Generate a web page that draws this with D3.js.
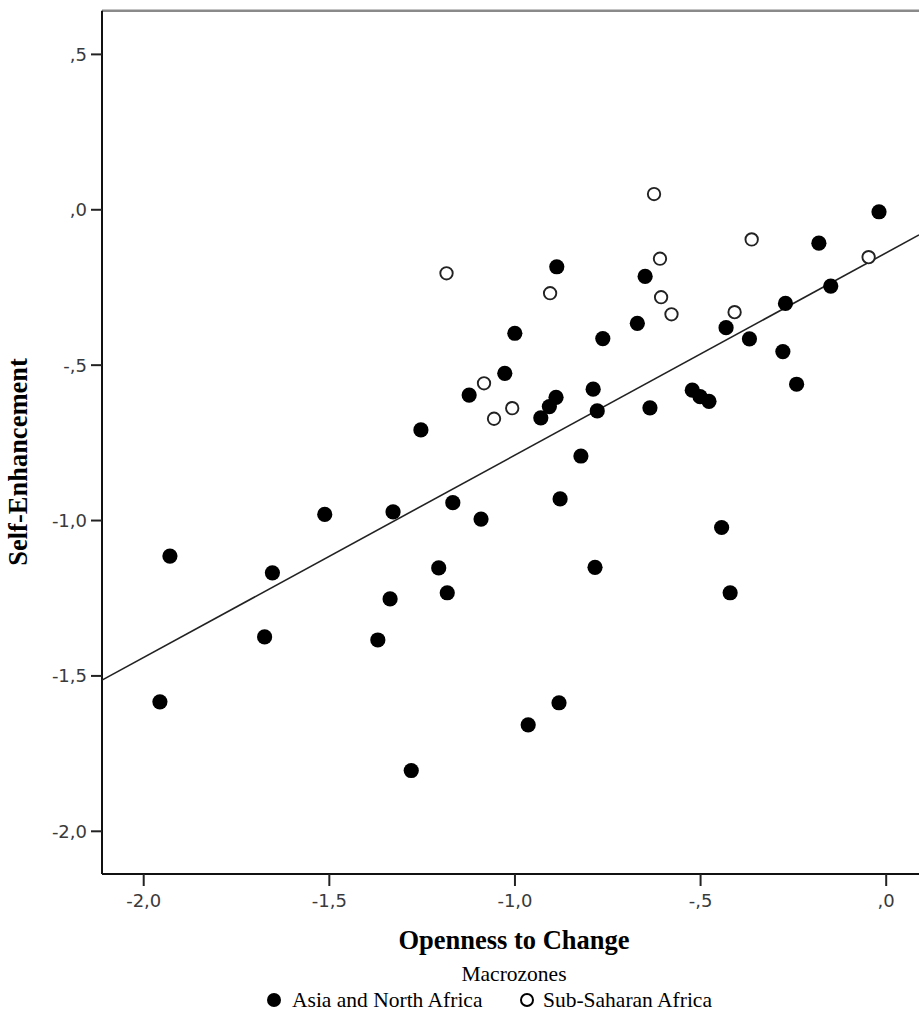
<!DOCTYPE html>
<html>
<head>
<meta charset="utf-8">
<script src="https://cdn.jsdelivr.net/npm/d3@7"></script>
<style>
  html, body { margin: 0; padding: 0; background: #fff; }
  svg { display: block; }
</style>
</head>
<body>
<svg id="chart" width="919" height="1014"></svg>
<script>
// ---- Data ----
const xTicks = [-2.0, -1.5, -1.0, -0.5, 0.0];
const yTicks = [0.5, 0.0, -0.5, -1.0, -1.5, -2.0];
const xTickLabels = ["-2,0", "-1,5", "-1,0", "-,5", ",0"];
const yTickLabels = [",5", ",0", "-,5", "-1,0", "-1,5", "-2,0"];

const asiaX = [-1.928, -1.955, -1.652, -1.673, -1.511, -1.327, -1.335, -1.368, -1.278, -1.252,
               -1.204, -1.181, -1.166, -1.090, -1.122, -1.026, -0.999, -0.886, -0.929, -0.906,
               -0.888, -0.788, -0.777, -0.762, -0.821, -0.877, -0.783, -0.880, -0.963, -0.669,
               -0.648, -0.635, -0.521, -0.500, -0.476, -0.430, -0.367, -0.442, -0.419, -0.277,
               -0.240, -0.270, -0.180, -0.148, -0.018];
const asiaY = [-1.116, -1.585, -1.170, -1.376, -0.982, -0.974, -1.254, -1.386, -1.806, -0.710,
               -1.154, -1.234, -0.944, -0.997, -0.598, -0.528, -0.399, -0.185, -0.671, -0.635,
               -0.605, -0.579, -0.649, -0.416, -0.794, -0.932, -1.152, -1.588, -1.659, -0.367,
               -0.216, -0.639, -0.582, -0.603, -0.618, -0.381, -0.417, -1.024, -1.234, -0.458,
               -0.563, -0.303, -0.109, -0.247, -0.008];

const ssaX = [-1.183, -1.082, -1.055, -1.006, -0.904, -0.624, -0.608, -0.605, -0.577, -0.407, -0.361, -0.046];
const ssaY = [-0.206, -0.560, -0.674, -0.640, -0.270, 0.049, -0.159, -0.283, -0.338, -0.331, -0.097, -0.154];

const fitIntercept = -0.141;
const fitSlope = 0.651;

const legendLabels = ["Asia and North Africa", "Sub-Saharan Africa"];

// ---- Layout ----
const svg = d3.select("#chart");
const pLeft = 102, pRight = 919, pTop = 10.7, pBottom = 874;
const xDomain = [-2.111, 0.0897];
const yDomain = [-2.139, 0.639];

const x = d3.scaleLinear().domain(xDomain).range([pLeft, pRight]);
const y = d3.scaleLinear().domain(yDomain).range([pBottom, pTop]);

const tickFont = "'DejaVu Sans', sans-serif";
const serif = "'Liberation Serif', 'Times New Roman', serif";

// top frame line (gray)
svg.append("line")
  .attr("x1", pLeft).attr("x2", pRight)
  .attr("y1", pTop).attr("y2", pTop)
  .attr("stroke", "#8a8a8a").attr("stroke-width", 2.6);

// Y axis
const yAxis = d3.axisLeft(y).tickValues(yTicks)
  .tickFormat((d, i) => yTickLabels[i]).tickSize(11).tickPadding(4).tickSizeOuter(0);
const gy = svg.append("g").attr("transform", `translate(${pLeft},0)`).call(yAxis);
gy.select(".domain").attr("stroke", "#111").attr("stroke-width", 2)
  .attr("d", `M0,${pTop}V${pBottom}`);
gy.selectAll(".tick line").attr("stroke", "#222").attr("stroke-width", 2);
gy.selectAll(".tick text").attr("font-family", tickFont).attr("font-size", 18)
  .attr("fill", "#3a3a3a").attr("dy", "0.36em");

// X axis
const xAxis = d3.axisBottom(x).tickValues(xTicks)
  .tickFormat((d, i) => xTickLabels[i]).tickSize(12).tickPadding(8).tickSizeOuter(0);
const gx = svg.append("g").attr("transform", `translate(0,${pBottom})`).call(xAxis);
gx.select(".domain").attr("stroke", "#111").attr("stroke-width", 2)
  .attr("d", `M${pLeft},0H${pRight}`);
gx.selectAll(".tick line").attr("stroke", "#222").attr("stroke-width", 2);
gx.selectAll(".tick text").attr("font-family", tickFont).attr("font-size", 18)
  .attr("fill", "#3a3a3a");

// Fit line
const fx = d => fitIntercept + fitSlope * d;
svg.append("line")
  .attr("x1", x(xDomain[0])).attr("y1", y(fx(xDomain[0])))
  .attr("x2", x(xDomain[1])).attr("y2", y(fx(xDomain[1])))
  .attr("stroke", "#222").attr("stroke-width", 1.6);

// Points
const asia = asiaX.map((v, i) => ({ x: v, y: asiaY[i] }));
const ssa = ssaX.map((v, i) => ({ x: v, y: ssaY[i] }));

svg.append("g").selectAll("circle").data(asia).join("circle")
  .attr("cx", d => x(d.x)).attr("cy", d => y(d.y)).attr("r", 7.6)
  .attr("fill", "#000");

svg.append("g").selectAll("circle").data(ssa).join("circle")
  .attr("cx", d => x(d.x)).attr("cy", d => y(d.y)).attr("r", 6.2)
  .attr("fill", "#fff").attr("stroke", "#222").attr("stroke-width", 1.9);

// Axis titles
svg.append("text").attr("x", 514).attr("y", 949)
  .attr("text-anchor", "middle").attr("font-family", serif)
  .attr("font-weight", "bold").attr("font-size", 26.5).attr("fill", "#000")
  .text("Openness to Change");

svg.append("text")
  .attr("transform", `translate(27,${462}) rotate(-90)`)
  .attr("text-anchor", "middle").attr("font-family", serif)
  .attr("font-weight", "bold").attr("font-size", 26.5).attr("fill", "#000")
  .text("Self-Enhancement");

// Legend
svg.append("text").attr("x", 514).attr("y", 981)
  .attr("text-anchor", "middle").attr("font-family", serif)
  .attr("font-size", 21.5).attr("fill", "#000").text("Macrozones");

const lg = svg.append("g");
lg.append("circle").attr("cx", 274).attr("cy", 1000).attr("r", 7).attr("fill", "#000");
lg.append("text").attr("x", 292).attr("y", 1007).attr("font-family", serif)
  .attr("font-size", 21.5).attr("fill", "#000").text(legendLabels[0]);
lg.append("circle").attr("cx", 527).attr("cy", 1000).attr("r", 6)
  .attr("fill", "#fff").attr("stroke", "#000").attr("stroke-width", 2);
lg.append("text").attr("x", 543).attr("y", 1007).attr("font-family", serif)
  .attr("font-size", 21.5).attr("fill", "#000").text(legendLabels[1]);
</script>
</body>
</html>
